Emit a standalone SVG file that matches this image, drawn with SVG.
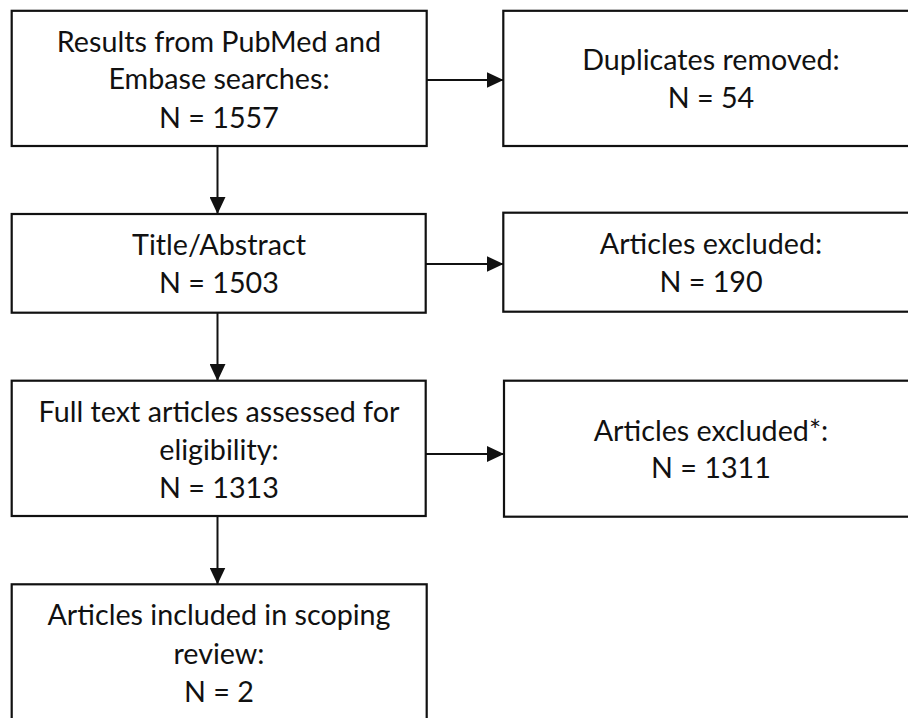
<svg xmlns="http://www.w3.org/2000/svg" width="908" height="718" viewBox="0 0 908 718">
<style>
.box{fill:#fff;stroke:#111;stroke-width:2.2}
.t{font-family:Lato,"Noto Sans","Liberation Sans",sans-serif;font-size:28.7px;fill:#111;text-anchor:middle}
.c{stroke:#111;stroke-width:2;fill:none}
</style>
<defs>
<marker id="ah" markerUnits="userSpaceOnUse" markerWidth="17" markerHeight="16" refX="17" refY="8" orient="auto">
<path d="M0,0 L17,8 L0,16 z" fill="#111"/>
</marker>
</defs>
<rect width="908" height="718" fill="#fff"/>
<g id="connectors">
<line class="c" x1="426.5" y1="80" x2="503.5" y2="80" marker-end="url(#ah)"/>
<line class="c" x1="425.5" y1="264" x2="503.5" y2="264" marker-end="url(#ah)"/>
<line class="c" x1="425.5" y1="454" x2="504" y2="454" marker-end="url(#ah)"/>
<line class="c" x1="217.5" y1="146" x2="217.5" y2="214" marker-end="url(#ah)"/>
<line class="c" x1="217.5" y1="313" x2="217.5" y2="381" marker-end="url(#ah)"/>
<line class="c" x1="217.5" y1="516" x2="217.5" y2="584.5" marker-end="url(#ah)"/>
</g>
<g id="n1">
<rect class="box" x="11.7" y="10.8" width="415" height="135.2"/>
<text class="t" x="219" y="51.7">Results from PubMed and</text>
<text class="t" x="219" y="89.3">Embase searches:</text>
<text class="t" x="219" y="127.7">N = 1557</text>
</g>
<g id="n2">
<rect class="box" x="503.3" y="10.8" width="416" height="135.2"/>
<text class="t" x="711" y="70">Duplicates removed:</text>
<text class="t" x="711" y="108.3">N = 54</text>
</g>
<g id="n3">
<rect class="box" x="11.7" y="214" width="414" height="98.7"/>
<text class="t" x="219" y="255">Title/Abstract</text>
<text class="t" x="219" y="293.3">N = 1503</text>
</g>
<g id="n4">
<rect class="box" x="503.3" y="212.7" width="416" height="99"/>
<text class="t" x="711" y="254">Articles excluded:</text>
<text class="t" x="711" y="291.7">N = 190</text>
</g>
<g id="n5">
<rect class="box" x="11.7" y="380.7" width="414" height="135.3"/>
<text class="t" x="219" y="421.7">Full text articles assessed for</text>
<text class="t" x="219" y="460">eligibility:</text>
<text class="t" x="219" y="497.7">N = 1313</text>
</g>
<g id="n6">
<rect class="box" x="504" y="380.7" width="416" height="136"/>
<text class="t" x="711" y="441">Articles excluded*:</text>
<text class="t" x="711" y="478.3">N = 1311</text>
</g>
<g id="n7">
<rect class="box" x="11.7" y="584.3" width="415" height="150"/>
<text class="t" x="219" y="625">Articles included in scoping</text>
<text class="t" x="219" y="664">review:</text>
<text class="t" x="219" y="701.7">N = 2</text>
</g>
</svg>
